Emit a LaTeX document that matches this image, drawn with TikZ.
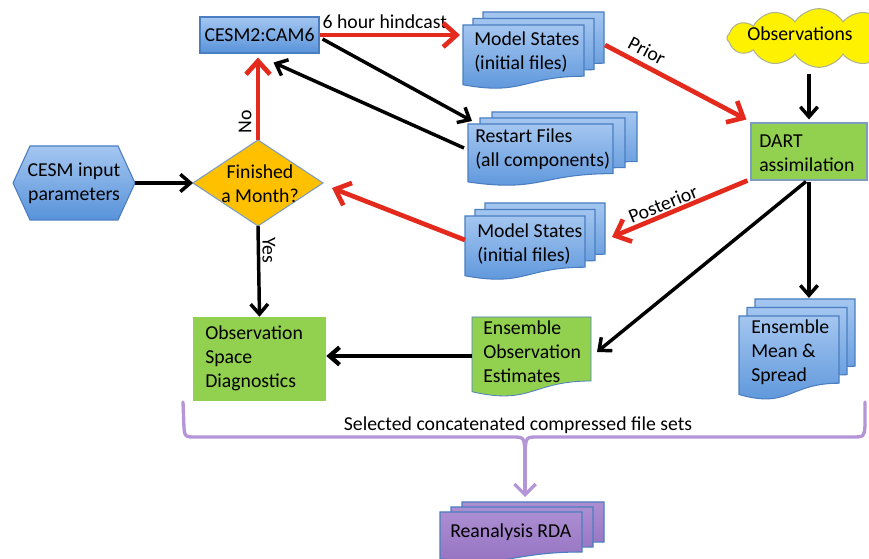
\documentclass[tikz,border=0pt]{standalone}
\usepackage{fontspec}
\setmainfont{Carlito}
\usetikzlibrary{arrows.meta,shapes.symbols,fit,calc}
\definecolor{bluetop}{HTML}{A4C6F0}
\definecolor{bluebot}{HTML}{5893DA}
\definecolor{blueedge}{HTML}{4A7EC0}
\definecolor{greenfill}{HTML}{92D050}
\definecolor{orangefill}{HTML}{FFC000}
\definecolor{arrred}{HTML}{E42A1D}
\definecolor{purpline}{HTML}{B496D8}
\definecolor{purptop}{HTML}{AC8ED2}
\definecolor{purpbot}{HTML}{9370C0}
\definecolor{cloudedge}{HTML}{B0B48C}
\definecolor{grayedge}{HTML}{7C9CC0}
\newcommand{\diagfont}{\fontsize{14.8}{18}\selectfont}
\newcommand{\docsheet}[5]{%
  \path[#5] ({#1},{#2}) -- ({#1+#3},{#2}) -- ({#1+#3},{#2+0.8*#4}) .. controls ({#1+0.5*#3},{#2+0.8*#4}) and ({#1+0.5*#3},{#2+1.107*#4}) .. ({#1},{#2+0.934*#4}) -- cycle;}
\newcommand{\docstack}[7]{%
  \docsheet{#1+2*#5}{#2-2*#6}{#3}{#4}{#7}%
  \docsheet{#1+#5}{#2-#6}{#3}{#4}{#7}%
  \docsheet{#1}{#2}{#3}{#4}{#7}}
\begin{document}
\begin{tikzpicture}[x=0.75pt,y=-0.75pt,
  txt/.style={font=\diagfont, align=left, inner sep=0pt},
  bluefill/.style={top color=bluetop, bottom color=bluebot, draw=blueedge, line width=0.8pt},
  purpfill/.style={top color=purptop, bottom color=purpbot, draw=blueedge, line width=0.8pt},
  greendoc/.style={fill=greenfill, draw=blueedge, line width=0.6pt},
  area/.style={inner sep=0pt, outer sep=0pt},
  redarr/.style={draw=arrred, line width=3.5pt, -{Straight Barb[length=10pt,width=18pt]}},
  blkarr/.style={draw=black, line width=2.6pt, -{Straight Barb[length=7.5pt,width=13pt]}},
  lbl/.style={font=\diagfont, inner sep=1pt}
]
\useasboundingbox (0,0) rectangle (869,559);
\fill[white] (0,0) rectangle (869,559);

% CAM6 box
\node[rectangle, top color=bluetop, bottom color=bluebot, draw=blueedge, line width=0.8pt,
      minimum width=89.25pt, minimum height=27pt, inner sep=0pt, font=\diagfont] (cam) at (259.5,35) {CESM2:CAM6};
\node[lbl, anchor=west] (hind) at (321,22) {6 hour hindcast};

% hexagon
\path[bluefill] (13,183) -- (30,146) -- (118,146) -- (135,183) -- (118,220) -- (30,220) -- cycle;
\node[area, fit={(13,146) (135,220)}] (hex) {};
\node[txt, align=center] (hext) at (74,183) {CESM input\\parameters};

% diamond
\path[fill=orangefill, draw=grayedge, line width=0.8pt] (193,183) -- (258,140) -- (323,183) -- (258,226) -- cycle;
\node[area, fit={(193,140) (323,226)}] (dia) {};
\node[txt, align=center] (diat) at (260,184) {Finished\\a Month?};

% Observation space diagnostics
\node[rectangle, fill=greenfill, minimum width=99.75pt, minimum height=63pt, inner sep=0pt] (osd) at (259.5,359) {};
\node[txt, anchor=west] (osdt) at (205,358) {Observation\\Space\\Diagnostics};

% DART
\node[rectangle, fill=greenfill, draw=grayedge, line width=0.8pt, minimum width=87pt, minimum height=42.75pt, inner sep=0pt] (dart) at (809,151.5) {};
\node[txt, anchor=west] (dartt) at (759,153) {DART\\assimilation};

% Observations cloud
\node[cloud, cloud puffs=12, cloud puff arc=115, aspect=2.8, draw=cloudedge, line width=0.8pt, fill=yellow,
      minimum width=138pt, minimum height=44pt, inner sep=0pt] (obs) at (819,38) {};
\node[lbl] (obst) at (800,34) {Observations};

% document stacks
\docstack{463}{25}{121}{64}{10}{6.5}{bluefill}
\node[area, fit={(463,25) (584,89)}] (ms1) {};
\node[txt, anchor=west] (ms1t) at (474,52) {Model States\\(initial files)};

\docstack{468}{124}{145}{62}{12}{6}{bluefill}
\node[area, fit={(468,124) (613,184)}] (rs) {};
\node[txt, anchor=west] (rst) at (475,149) {Restart Files\\(all components)};

\docstack{465}{216}{120}{64}{10}{6.5}{bluefill}
\node[area, fit={(465,216) (585,280)}] (ms2) {};
\node[txt, anchor=west] (ms2t) at (477,244) {Model States\\(initial files)};

\docstack{739}{316}{100}{84}{8}{8.5}{bluefill}
\node[area, fit={(739,316) (839,398)}] (ems) {};
\node[txt, anchor=west] (emst) at (751,352) {Ensemble\\Mean \&\\Spread};

\docsheet{472}{317}{119}{80}{greendoc}
\node[area, fit={(472,317) (591,395)}] (eoe) {};
\node[txt, anchor=west] (eoet) at (483,352) {Ensemble\\Observation\\Estimates};

\docstack{440}{512}{142}{50}{11}{5}{purpfill}
\node[area, fit={(440,512) (582,559)}] (rda) {};
\node[txt, anchor=west] (rdat) at (450,532) {Reanalysis RDA};

% connectors
\draw[redarr] (cam.east) -- ($(ms1.west |- cam.east)+(-3,0)$);
\draw[blkarr] ($(cam.east)+(3,4)$) -- ($(rs.north west)+(4,-3)$);
\draw[blkarr] ($(rs.west)+(-4,-6)$) -- ($(cam.south)+(14,9)$);
\draw[redarr] (dia.north) -- ($(cam.south)+(-1.5,4)$);
\node[lbl, rotate=90] (nolbl) at (245,122) {No};
\draw[blkarr] (hex.east) -- (dia.west);
\draw[blkarr] (dia.south) -- (osd.north);
\node[lbl, rotate=-90] (yeslbl) at (269,250) {Yes};
\draw[redarr] ($(ms2.west)+(0,-8)$) -- ($(dia.east)+(9,5)$);
\draw[redarr] ($(ms1.north east)+(21,20)$) -- ($(dart.west)+(-4,-32)$);
\node[lbl, rotate=-28] (priorlbl) at (647,51) {Prior};
\draw[blkarr] ($(obs.south -| dart.north)+(0,6)$) -- ($(dart.north)+(0,-3)$);
\draw[redarr] ($(dart.south west)+(-3,0)$) -- ($(ms2.east)+(27,-11)$);
\node[lbl, rotate=22] (postlbl) at (663,204) {Posterior};
\draw[blkarr] ($(dart.south)+(0,1)$) -- ($(dart.south |- ems.north)+(0,-18)$);
\draw[blkarr] ($(dart.south)+(-3,1)$) -- ($(eoe.east)+(6,-4)$);
\draw[blkarr, line width=3.2pt] (eoe.west) -- (eoe.west -| osd.east);

% brace to RDA
\coordinate (brtip) at ($(rda.north)+(14,-15)$);
\draw[purpline, line width=2.5pt, line cap=round, line join=round]
  (183,402) -- (184,428) .. controls (185,437) .. (196,437) -- (512,437) .. controls (524,437) .. (525,452)
  (538,437) .. controls (526,437) .. (525,452)
  (538,437) -- (852,437) .. controls (864,437) .. (865,426) -- (865,402);
\draw[purpline, line width=2.5pt, -{Straight Barb[length=8pt,width=16pt]}] (525,450) -- (brtip);
\node[lbl] (sellbl) at (518,425) {Selected concatenated compressed file sets};
\end{tikzpicture}
\end{document}
